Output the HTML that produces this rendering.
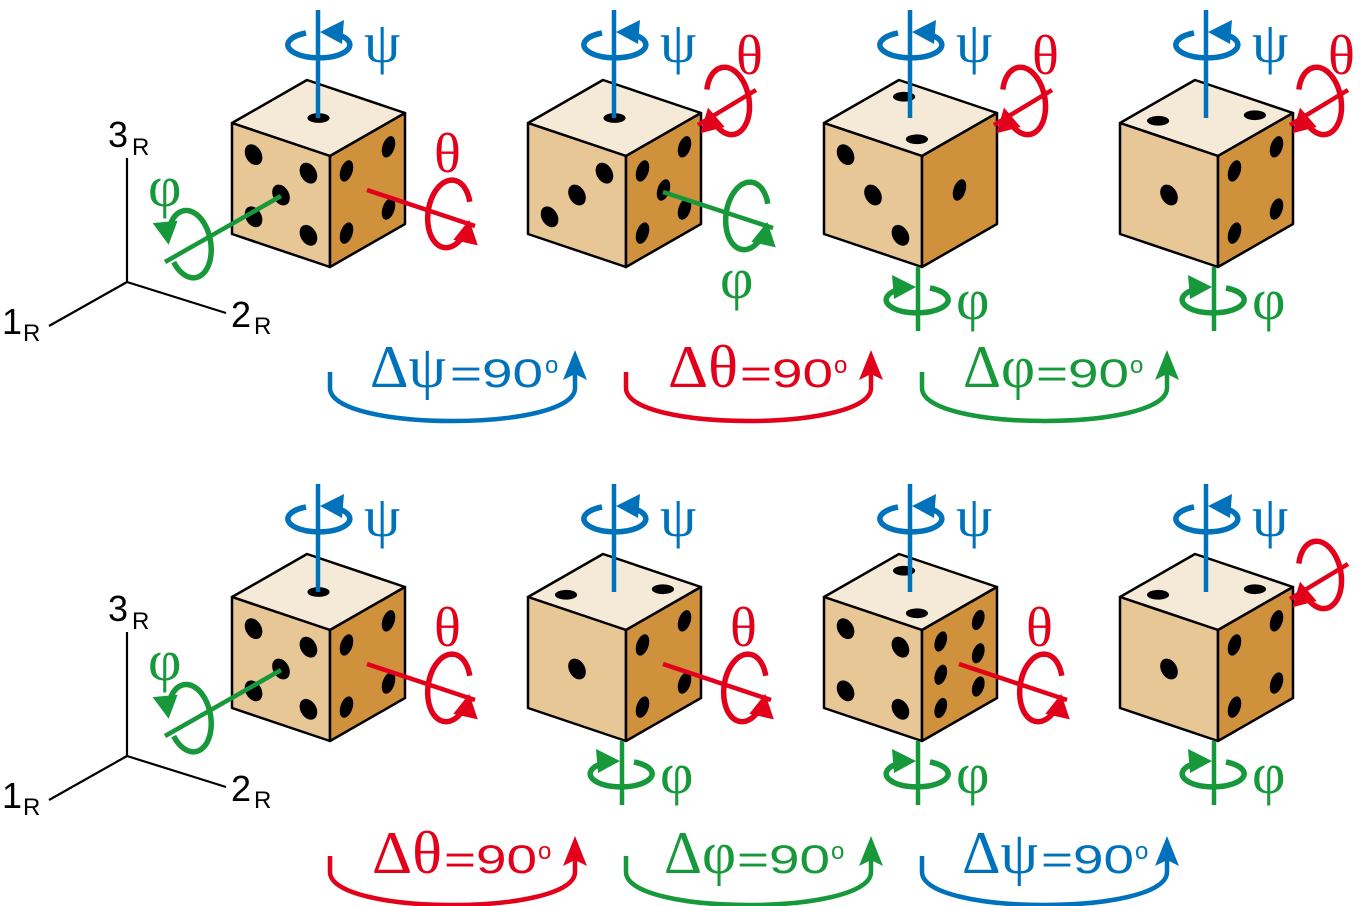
<!DOCTYPE html>
<html><head><meta charset="utf-8"><style>
html,body{margin:0;padding:0;background:#fff;}
svg{display:block;}
text{font-family:"Liberation Sans",sans-serif;}
.g{font-family:"Liberation Serif",serif;}
</style></head><body>
<svg width="1360" height="906" viewBox="0 0 1360 906" xmlns="http://www.w3.org/2000/svg">
<defs>
<g id="curl"><path d="M-12,-12 A31 13 0 1 0 12,-12.3" fill="none" stroke="currentColor" stroke-width="5.5"/><polygon points="2,-13 26,-25 24,-1" fill="currentColor"/></g>
<g id="curl2"><path d="M-14,-19 A34 21 0 1 0 14,-19.5" fill="none" stroke="currentColor" stroke-width="5.5"/><polygon points="4,-21 28,-33 26,-8" fill="currentColor"/></g>
<g id="cube">
<polygon points="0,0 75,-43 -23,-76 -98,-33" fill="#f5e9d7" stroke="#000" stroke-width="2.5" stroke-linejoin="round"/>
<polygon points="0,0 -98,-33 -98,78 0,111" fill="#e8c796" stroke="#000" stroke-width="2.5" stroke-linejoin="round"/>
<polygon points="0,0 75,-43 75,68 0,111" fill="#cf913b" stroke="#000" stroke-width="2.5" stroke-linejoin="round"/>
</g>
<g id="p1"><circle cx=".5" cy=".5" r=".09"/></g>
<g id="p2a"><circle cx=".22" cy=".22" r=".09"/><circle cx=".78" cy=".78" r=".09"/></g>
<g id="p2b"><circle cx=".22" cy=".78" r=".09"/><circle cx=".78" cy=".22" r=".09"/></g>
<g id="p3a"><circle cx=".22" cy=".22" r=".09"/><circle cx=".5" cy=".5" r=".09"/><circle cx=".78" cy=".78" r=".09"/></g>
<g id="p3b"><circle cx=".22" cy=".78" r=".09"/><circle cx=".5" cy=".5" r=".09"/><circle cx=".78" cy=".22" r=".09"/></g>
<g id="p4"><circle cx=".22" cy=".22" r=".09"/><circle cx=".78" cy=".78" r=".09"/><circle cx=".22" cy=".78" r=".09"/><circle cx=".78" cy=".22" r=".09"/></g>
<g id="p5"><use href="#p4"/><circle cx=".5" cy=".5" r=".09"/></g>
<g id="psi" color="#0072bc">
<line x1="-12" y1="-38" x2="-12" y2="-146" stroke="#0072bc" stroke-width="4.5"/>
<use href="#curl" transform="translate(-12,-111)"/>
<text x="34" y="-94" class="g" font-size="58" fill="#0072bc">ψ</text>
</g>
<g id="phidown" color="#17983a">
<line x1="-4" y1="111" x2="-4" y2="175" stroke="#17983a" stroke-width="4.5"/>
<use href="#curl" transform="translate(-4,144) scale(-1,1)"/>
<text x="34" y="163" class="g" font-size="58" fill="#17983a">φ</text>
</g>
<g id="thetaG" color="#e2001a">
<line x1="37" y1="34" x2="145" y2="70" stroke="#e2001a" stroke-width="4.5"/>
<use href="#curl2" transform="translate(119,57) rotate(98)"/>
</g>
<g id="thetaR" color="#e2001a">
<line x1="72" y1="-31" x2="130" y2="-66" stroke="#e2001a" stroke-width="4.5"/>
<use href="#curl2" transform="translate(102,-56) scale(-1,1) rotate(100)"/>
</g>
<g id="ax">
<polyline points="127,158 127,282 49,326" fill="none" stroke="#000" stroke-width="2.2"/>
<line x1="127" y1="282" x2="226" y2="313" stroke="#000" stroke-width="2.2"/>
<text x="108" y="147" font-size="36">3</text><text x="132" y="155" font-size="24">R</text>
<text x="2" y="334" font-size="36">1</text><text x="23" y="341" font-size="24">R</text>
<text x="231" y="327" font-size="36">2</text><text x="254" y="334" font-size="24">R</text>
</g>
<g id="thetaLbl"><text x="104" y="16" class="g" font-size="56" fill="#e2001a">θ</text></g>
<g id="thetaLblR"><text x="110" y="-82" class="g" font-size="56" fill="#e2001a">θ</text></g>
</defs>

<!-- ROW 1 -->
<use href="#ax"/>
<g transform="translate(330,156)">
<use href="#cube"/>
<g transform="matrix(75,-43,-98,-33,0,0)"><use href="#p1"/></g>
<g transform="matrix(98,33,0,111,-98,-33)"><use href="#p5"/></g>
<g transform="matrix(75,-43,0,111,0,0)"><use href="#p4"/></g>
<use href="#psi"/>
<use href="#thetaG"/>
<use href="#thetaLbl"/>
<g color="#17983a">
<line x1="-49" y1="40" x2="-165" y2="106" stroke="#17983a" stroke-width="4.5"/>
<use href="#curl2" transform="translate(-140,89) rotate(-100)"/>
<text x="-182" y="50" class="g" font-size="58" fill="#17983a">φ</text>
</g>
</g>
<g transform="translate(626,156)">
<use href="#cube"/>
<g transform="matrix(75,-43,-98,-33,0,0)"><use href="#p1"/></g>
<g transform="matrix(98,33,0,111,-98,-33)"><use href="#p3b"/></g>
<g transform="matrix(75,-43,0,111,0,0)"><use href="#p5"/></g>
<use href="#psi"/>
<use href="#thetaR"/>
<use href="#thetaLblR"/>
<g color="#17983a">
<line x1="37" y1="36" x2="147" y2="72" stroke="#17983a" stroke-width="4.5"/>
<use href="#curl2" transform="translate(121,59) rotate(98)"/>
<text x="94" y="142" class="g" font-size="58" fill="#17983a">φ</text>
</g>
</g>
<g transform="translate(922,156)">
<use href="#cube"/>
<g transform="matrix(75,-43,-98,-33,0,0)"><use href="#p2a"/></g>
<g transform="matrix(98,33,0,111,-98,-33)"><use href="#p3a"/></g>
<g transform="matrix(75,-43,0,111,0,0)"><use href="#p1"/></g>
<use href="#psi"/>
<use href="#thetaR"/>
<use href="#thetaLblR"/>
<use href="#phidown"/>
</g>
<g transform="translate(1218,156)">
<use href="#cube"/>
<g transform="matrix(75,-43,-98,-33,0,0)"><use href="#p2b"/></g>
<g transform="matrix(98,33,0,111,-98,-33)"><use href="#p1"/></g>
<g transform="matrix(75,-43,0,111,0,0)"><use href="#p4"/></g>
<use href="#psi"/>
<use href="#thetaR"/>
<use href="#thetaLblR"/>
<use href="#phidown"/>
</g>

<g fill="none" stroke-width="4.5">
<path d="M330,372 L330,388 C330,432 575,432 575,388 L575,372" stroke="#0072bc"/>
<path d="M626,372 L626,388 C626,432 871,432 871,388 L871,372" stroke="#e2001a"/>
<path d="M922,372 L922,388 C922,432 1167,432 1167,388 L1167,372" stroke="#17983a"/>
</g>
<polygon points="575,350 563,380 575,374 587,380" fill="#0072bc"/>
<polygon points="871,350 859,380 871,374 883,380" fill="#e2001a"/>
<polygon points="1167,350 1155,380 1167,374 1179,380" fill="#17983a"/>
<g fill="#0072bc"><text x="370" y="387" class="g" font-size="60" textLength="76" lengthAdjust="spacingAndGlyphs">Δψ</text><text x="450" y="387" font-size="40" textLength="93" lengthAdjust="spacingAndGlyphs">=90</text><text x="545" y="373" font-size="24">o</text></g>
<g fill="#e2001a"><text x="668" y="387" class="g" font-size="60" textLength="70" lengthAdjust="spacingAndGlyphs">Δθ</text><text x="740" y="387" font-size="40" textLength="93" lengthAdjust="spacingAndGlyphs">=90</text><text x="834" y="373" font-size="24">o</text></g>
<g fill="#17983a"><text x="963" y="387" class="g" font-size="60" textLength="72" lengthAdjust="spacingAndGlyphs">Δφ</text><text x="1036" y="387" font-size="40" textLength="93" lengthAdjust="spacingAndGlyphs">=90</text><text x="1130" y="373" font-size="24">o</text></g>

<!-- ROW 2 -->
<g transform="translate(0,474)">
<use href="#ax"/>
<g transform="translate(330,156)">
<use href="#cube"/>
<g transform="matrix(75,-43,-98,-33,0,0)"><use href="#p1"/></g>
<g transform="matrix(98,33,0,111,-98,-33)"><use href="#p5"/></g>
<g transform="matrix(75,-43,0,111,0,0)"><use href="#p4"/></g>
<use href="#psi"/>
<use href="#thetaG"/>
<use href="#thetaLbl"/>
<g color="#17983a">
<line x1="-49" y1="40" x2="-165" y2="106" stroke="#17983a" stroke-width="4.5"/>
<use href="#curl2" transform="translate(-140,89) rotate(-100)"/>
<text x="-182" y="50" class="g" font-size="58" fill="#17983a">φ</text>
</g>
</g>
<g transform="translate(626,156)">
<use href="#cube"/>
<g transform="matrix(75,-43,-98,-33,0,0)"><use href="#p2b"/></g>
<g transform="matrix(98,33,0,111,-98,-33)"><use href="#p1"/></g>
<g transform="matrix(75,-43,0,111,0,0)"><use href="#p4"/></g>
<use href="#psi"/>
<use href="#thetaG"/>
<use href="#thetaLbl"/>
<use href="#phidown"/>
</g>
<g transform="translate(922,156)">
<use href="#cube"/>
<g transform="matrix(75,-43,-98,-33,0,0)"><use href="#p2a"/></g>
<g transform="matrix(98,33,0,111,-98,-33)"><use href="#p4"/></g>
<g transform="matrix(75,-43,0,111,0,0)"><circle cx=".25" cy=".2" r=".085"/><circle cx=".25" cy=".5" r=".085"/><circle cx=".25" cy=".8" r=".085"/><circle cx=".75" cy=".2" r=".085"/><circle cx=".75" cy=".5" r=".085"/><circle cx=".75" cy=".8" r=".085"/></g>
<use href="#psi"/>
<use href="#thetaG"/>
<use href="#thetaLbl"/>
<use href="#phidown"/>
</g>
<g transform="translate(1218,156)">
<use href="#cube"/>
<g transform="matrix(75,-43,-98,-33,0,0)"><use href="#p2b"/></g>
<g transform="matrix(98,33,0,111,-98,-33)"><use href="#p1"/></g>
<g transform="matrix(75,-43,0,111,0,0)"><use href="#p4"/></g>
<use href="#psi"/>
<use href="#thetaR"/>
<use href="#phidown"/>
</g>
</g>

<g fill="none" stroke-width="4.5">
<path d="M330,856 L330,872 C330,916 575,916 575,872 L575,858" stroke="#e2001a"/>
<path d="M626,856 L626,872 C626,916 871,916 871,872 L871,858" stroke="#17983a"/>
<path d="M922,856 L922,872 C922,916 1167,916 1167,872 L1167,858" stroke="#0072bc"/>
</g>
<polygon points="575,836 563,866 575,860 587,866" fill="#e2001a"/>
<polygon points="871,836 859,866 871,860 883,866" fill="#17983a"/>
<polygon points="1167,836 1155,866 1167,860 1179,866" fill="#0072bc"/>
<g fill="#e2001a"><text x="372" y="873" class="g" font-size="60" textLength="70" lengthAdjust="spacingAndGlyphs">Δθ</text><text x="444" y="873" font-size="40" textLength="93" lengthAdjust="spacingAndGlyphs">=90</text><text x="538" y="859" font-size="24">o</text></g>
<g fill="#17983a"><text x="664" y="873" class="g" font-size="60" textLength="72" lengthAdjust="spacingAndGlyphs">Δφ</text><text x="737" y="873" font-size="40" textLength="93" lengthAdjust="spacingAndGlyphs">=90</text><text x="831" y="859" font-size="24">o</text></g>
<g fill="#0072bc"><text x="962" y="873" class="g" font-size="60" textLength="76" lengthAdjust="spacingAndGlyphs">Δψ</text><text x="1041" y="873" font-size="40" textLength="93" lengthAdjust="spacingAndGlyphs">=90</text><text x="1135" y="859" font-size="24">o</text></g>
</svg>
</body></html>
